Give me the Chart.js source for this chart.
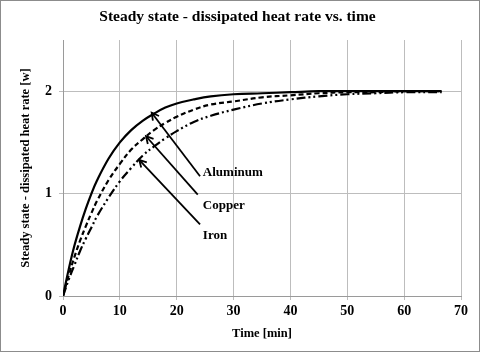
<!DOCTYPE html>
<html>
<head>
<meta charset="utf-8">
<script src="https://cdn.jsdelivr.net/npm/chart.js@4/dist/chart.umd.min.js"></script>
<style>
  html, body { margin: 0; padding: 0; background: #fff; }
  #wrap { width: 480px; height: 352px; }
</style>
</head>
<body>
<div id="wrap"><canvas id="myChart" width="480" height="352"></canvas></div>
<script>
// time in minutes
const times = [0, 1, 2, 3, 4, 5, 6, 8, 10, 12, 14, 16, 18, 20, 23, 26, 30, 35, 40, 45, 50, 55, 60, 66.6];

// dissipated heat rate [w]
const aluminum = [0, 0.26, 0.49, 0.68, 0.85, 1.00, 1.13, 1.34, 1.50, 1.62, 1.71, 1.78, 1.84, 1.88, 1.92, 1.95, 1.97, 1.98, 1.99, 2.00, 2.00, 2.00, 2.00, 2.00];
const copper   = [0, 0.20, 0.38, 0.54, 0.68, 0.81, 0.93, 1.13, 1.29, 1.43, 1.53, 1.62, 1.69, 1.75, 1.82, 1.87, 1.90, 1.94, 1.96, 1.98, 1.99, 1.99, 2.00, 2.00];
const iron     = [0, 0.16, 0.30, 0.44, 0.56, 0.67, 0.78, 0.96, 1.12, 1.25, 1.37, 1.46, 1.54, 1.61, 1.70, 1.76, 1.82, 1.88, 1.92, 1.95, 1.97, 1.98, 1.99, 1.99];

const xTicks = [0, 10, 20, 30, 40, 50, 60, 70];
const yTicks = [0, 1, 2];

// callouts: [text, tip time, tip value, tail time, tail value, text time, text value]
const callouts = [
    ['Aluminum', 15.6, 1.79, 24.1, 1.17, 24.6, 1.20],
    ['Copper',   14.6, 1.56, 23.7, 0.99, 24.6, 0.88],
    ['Iron',     13.4, 1.33, 24.1, 0.70, 24.6, 0.59]
];

const serif = '"Liberation Serif", "Times New Roman", serif';

function pts(ys) {
    return times.map((t, i) => ({ x: t, y: ys[i] }));
}

// white background + thin frame
const framePlugin = {
    id: 'frame',
    beforeDraw(chart) {
        const ctx = chart.ctx;
        ctx.save();
        ctx.fillStyle = '#fff';
        ctx.fillRect(0, 0, chart.width, chart.height);
        ctx.strokeStyle = '#8c8c8c';
        ctx.lineWidth = 1;
        ctx.strokeRect(0.5, 0.5, chart.width - 1, chart.height - 1);
        ctx.restore();
    }
};

// arrows and their text
const calloutPlugin = {
    id: 'callouts',
    afterDatasetsDraw(chart) {
        const ctx = chart.ctx;
        const xs = chart.scales.x, ys = chart.scales.y;
        ctx.save();
        ctx.strokeStyle = '#000';
        ctx.fillStyle = '#000';
        ctx.lineWidth = 1.8;
        ctx.font = 'bold 13px ' + serif;
        ctx.textBaseline = 'middle';
        callouts.forEach(c => {
            const x1 = xs.getPixelForValue(c[1]), y1 = ys.getPixelForValue(c[2]);
            const x2 = xs.getPixelForValue(c[3]), y2 = ys.getPixelForValue(c[4]);
            ctx.beginPath();
            ctx.moveTo(x2, y2);
            ctx.lineTo(x1, y1);
            ctx.stroke();
            const a = Math.atan2(y2 - y1, x2 - x1);
            const len = 8, spread = 0.5;
            ctx.beginPath();
            ctx.moveTo(x1 + len * Math.cos(a + spread), y1 + len * Math.sin(a + spread));
            ctx.lineTo(x1, y1);
            ctx.lineTo(x1 + len * Math.cos(a - spread), y1 + len * Math.sin(a - spread));
            ctx.stroke();
            ctx.fillText(c[0], xs.getPixelForValue(c[5]), ys.getPixelForValue(c[6]));
        });
        ctx.restore();
    }
};

new Chart(document.getElementById('myChart').getContext('2d'), {
    type: 'line',
    data: {
        datasets: [
            { label: 'Aluminum', data: pts(aluminum), borderColor: '#000', borderWidth: 2.2, borderDash: [] },
            { label: 'Copper', data: pts(copper), borderColor: '#000', borderWidth: 2.2, borderDash: [5, 3] },
            { label: 'Iron', data: pts(iron), borderColor: '#000', borderWidth: 2.2, borderDash: [9, 3, 2, 3, 2, 3] }
        ]
    },
    options: {
        responsive: false,
        animation: false,
        events: [],
        elements: {
            point: { radius: 0 },
            line: { tension: 0.4, capBezierPoints: true, fill: false }
        },
        layout: { padding: { left: 14, right: 19, top: 0, bottom: 7 } },
        plugins: {
            legend: { display: false },
            tooltip: { enabled: false },
            title: {
                display: true,
                text: 'Steady state - dissipated heat rate vs. time',
                color: '#000',
                font: { family: serif, size: 15.5, weight: 'bold' },
                padding: { top: 8, bottom: 13.4 }
            }
        },
        scales: {
            x: {
                type: 'linear',
                min: 0,
                max: 70,
                afterBuildTicks: axis => { axis.ticks = xTicks.map(v => ({ value: v })); },
                afterFit: axis => { axis.height = 49; },
                grid: { color: '#bdbdbd', lineWidth: 1, tickLength: 4 },
                border: { color: '#9a9a9a' },
                ticks: { color: '#000', font: { family: serif, size: 14, weight: 'bold' }, padding: 3, maxRotation: 0 },
                title: {
                    display: true,
                    text: 'Time [min]',
                    color: '#000',
                    font: { family: serif, size: 12.5, weight: 'bold' }
                }
            },
            y: {
                type: 'linear',
                min: 0,
                max: 2.5,
                afterBuildTicks: axis => { axis.ticks = yTicks.map(v => ({ value: v })); },
                afterFit: axis => { axis.width = 49; },
                grid: { color: '#bdbdbd', lineWidth: 1, tickLength: 4 },
                border: { color: '#9a9a9a' },
                ticks: { color: '#000', font: { family: serif, size: 14, weight: 'bold' }, padding: 7 },
                title: {
                    display: true,
                    text: 'Steady state - dissipated heat rate [w]',
                    color: '#000',
                    font: { family: serif, size: 12.5, weight: 'bold' }
                }
            }
        }
    },
    plugins: [framePlugin, calloutPlugin]
});
</script>
</body>
</html>
